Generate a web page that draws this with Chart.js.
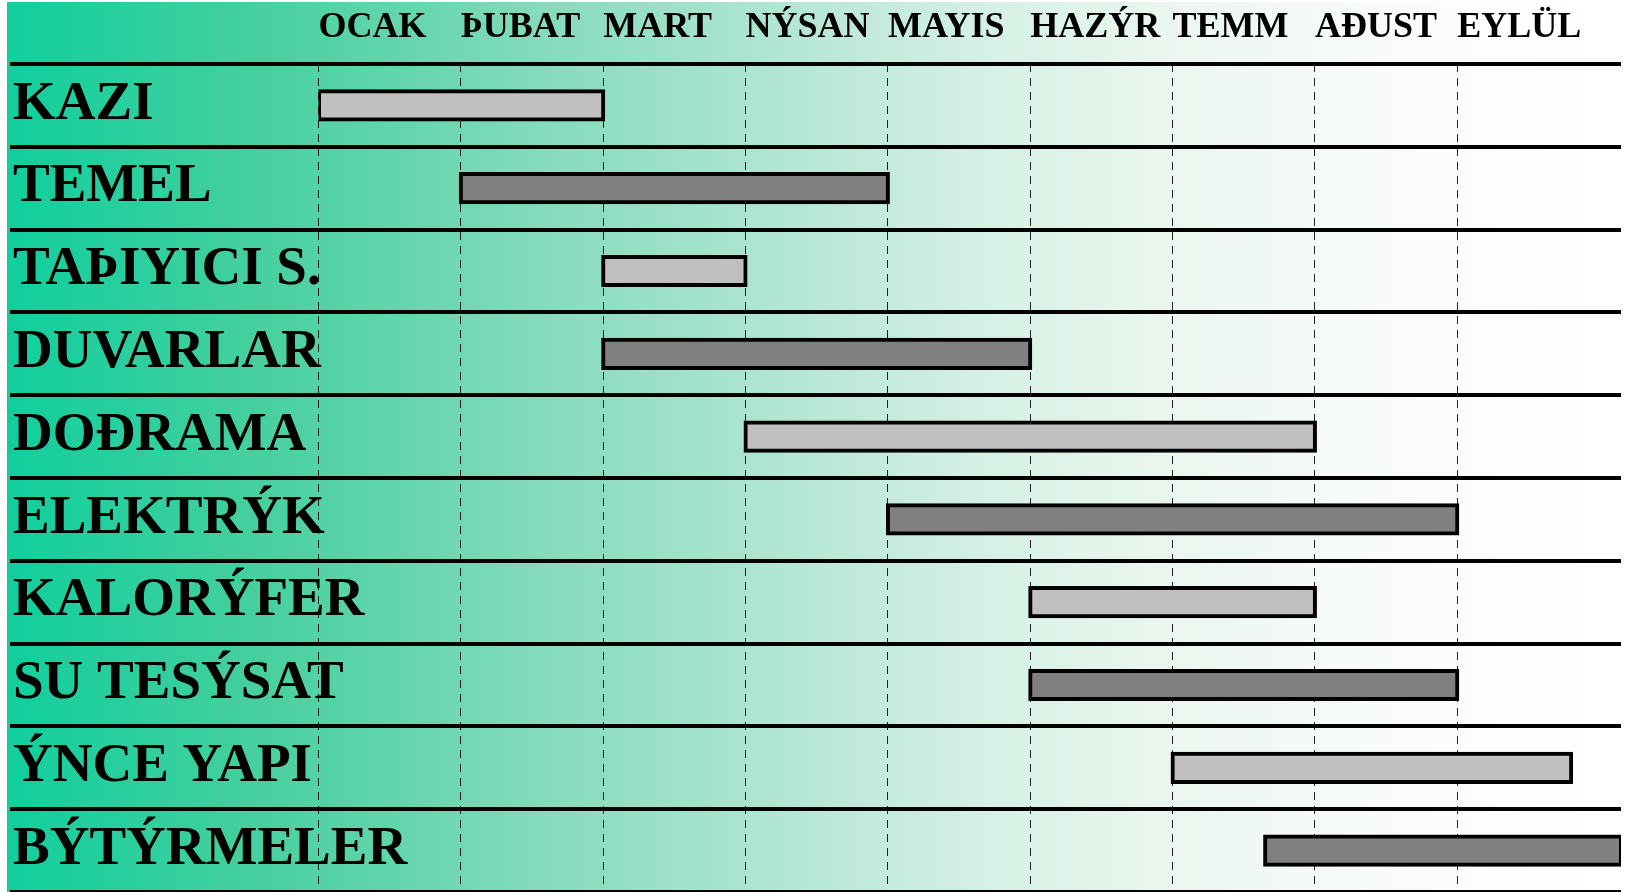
<!DOCTYPE html>
<html>
<head>
<meta charset="utf-8">
<title>İş programı</title>
<script src="https://cdn.jsdelivr.net/npm/chart.js@4/dist/chart.umd.min.js"></script>
<style>
  html, body { margin: 0; padding: 0; background: #fff; }
  canvas { display: block; }
</style>
</head>
<body>
<canvas id="gantt" width="1627" height="892"></canvas>
<script>
// months along the top, one column per month
const months = ["OCAK", "ÞUBAT", "MART", "NÝSAN", "MAYIS", "HAZÝR", "TEMM", "AÐUST", "EYLÜL"];
// work items, top to bottom
const tasks = ["KAZI", "TEMEL", "TAÞIYICI S.", "DUVARLAR", "DOÐRAMA", "ELEKTRÝK",
               "KALORÝFER", "SU TESÝSAT", "ÝNCE YAPI", "BÝTÝRMELER"];
// start / end in months from start of OCAK
const taskStart = [0, 1, 2, 2, 3, 4, 5, 5, 6, 6.65];
const taskEnd   = [2, 4, 3, 5, 7, 8, 7, 8, 8.8, 9.15];
const monthAxisMax = 9.15;

const LIGHT = "#c0c0c0";
const DARK = "#808080";

// green to white wash behind the whole table
const backdrop = {
  id: "backdrop",
  beforeDraw(chart) {
    const ctx = chart.ctx;
    const g = ctx.createLinearGradient(7, 0, 1627, 0);
    g.addColorStop(0.0, "#10cf9d");
    g.addColorStop(0.15, "#45cf9f");
    g.addColorStop(0.24, "#62d5ac");
    g.addColorStop(0.33, "#85dbbc");
    g.addColorStop(0.43, "#a3e3cb");
    g.addColorStop(0.52, "#bfe9d9");
    g.addColorStop(0.61, "#d6f1e5");
    g.addColorStop(0.71, "#e9f6ee");
    g.addColorStop(0.80, "#f4f9f6");
    g.addColorStop(0.89, "#fbfdfc");
    g.addColorStop(1.0, "#ffffff");
    ctx.save();
    ctx.fillStyle = g;
    ctx.fillRect(7, 2, 1620, 890);
    ctx.restore();
  }
};

Chart.defaults.font.family = "'Liberation Serif', 'Times New Roman', serif";
Chart.defaults.color = "#000";

new Chart(document.getElementById("gantt"), {
  type: "bar",
  data: {
    labels: tasks,
    datasets: [{
      data: tasks.map((t, i) => [taskStart[i], taskEnd[i]]),
      backgroundColor: (c) => (c.dataIndex % 2 ? DARK : LIGHT),
      borderColor: "#000",
      borderWidth: 4,
      borderSkipped: false,
      inflateAmount: 2, // outline sits across the bar edge, like the original
      barPercentage: 0.34,
      categoryPercentage: 1
    }]
  },
  options: {
    indexAxis: "y",
    responsive: false,
    animation: false,
    devicePixelRatio: 1,
    layout: { padding: { left: 13, right: 6, top: 0, bottom: 0 } },
    plugins: {
      legend: { display: false },
      tooltip: { enabled: false }
    },
    scales: {
      x: {
        type: "linear",
        position: "top",
        min: 0,
        max: monthAxisMax,
        z: 1,
        afterBuildTicks: (scale) => {
          scale.ticks = months.map((m, i) => ({ value: i }));
        },
        afterFit: (scale) => {
          scale.height = 64;
          scale.paddingLeft = 0;
          scale.paddingRight = 0;
        },
        grid: { color: "#222", lineWidth: 1, drawTicks: false },
        border: { display: false, dash: [8, 6] },
        ticks: {
          callback: (v) => months[v],
          align: "start",
          autoSkip: false,
          maxRotation: 0,
          padding: 15,
          font: { size: 36, weight: "bold" }
        }
      },
      y: {
        afterFit: (scale) => {
          scale.width = 305.5;
          scale.paddingTop = 0;
          scale.paddingBottom = 0;
        },
        grid: {
          color: "#000",
          lineWidth: 4,
          offset: true,
          tickLength: 308.5,
          tickColor: "#000",
          tickWidth: 4
        },
        border: { display: false },
        ticks: {
          // mirrored so the long names may run past the first month line
          mirror: true,
          padding: -305.5,
          autoSkip: false,
          labelOffset: -1,
          font: { size: 55, weight: "bold" }
        }
      }
    }
  },
  plugins: [backdrop]
});
</script>
</body>
</html>
